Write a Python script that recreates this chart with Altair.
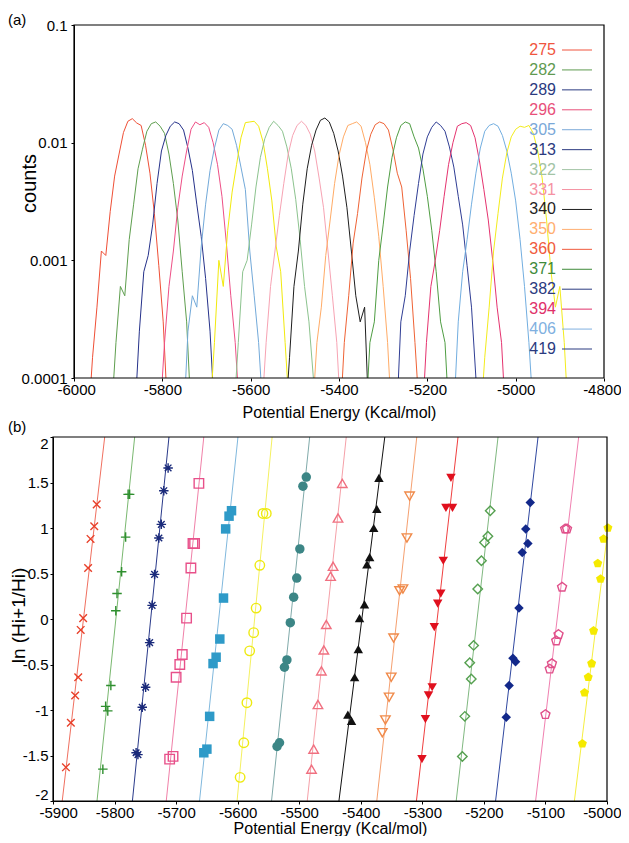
import altair as alt
import pandas as pd

# ---------------- panel (a): energy histograms ----------------
TEMPS = [275, 282, 289, 296, 305, 313, 322, 331, 340, 350, 360, 371, 382, 394, 406, 419]
H_START = [-5968, -5915, -5862, -5805, -5752, -5692, -5638, -5575,
           -5522, -5460, -5398, -5340, -5270, -5212, -5140, -5080]
H_STEP = 10
H_COUNTS = [
    [0.00004, 0.00015, 0.0004, 0.0012, 0.0011, 0.0026, 0.0052, 0.0080, 0.0122, 0.0152, 0.0160, 0.0147, 0.0140, 0.0095, 0.0055, 0.0025, 0.0009, 0.0003, 0.00005],
    [0.00005, 0.0002, 0.0006, 0.0005, 0.0015, 0.0030, 0.0060, 0.0088, 0.0125, 0.0145, 0.0150, 0.0138, 0.0120, 0.0080, 0.0045, 0.0022, 0.0008, 0.0003, 0.00005],
    [0.00005, 0.00025, 0.0008, 0.0011, 0.0020, 0.0045, 0.0085, 0.0115, 0.0138, 0.0150, 0.0145, 0.0128, 0.0090, 0.0058, 0.0030, 0.0016, 0.0007, 0.00025, 0.00005],
    [0.00005, 0.0002, 0.0006, 0.0012, 0.0028, 0.0052, 0.0085, 0.0130, 0.0150, 0.0142, 0.0148, 0.0135, 0.0100, 0.0065, 0.0035, 0.0014, 0.0005, 0.0002, 0.00005],
    [0.00004, 0.00025, 0.0005, 0.0004, 0.0013, 0.0030, 0.0058, 0.0090, 0.0128, 0.0145, 0.0140, 0.0130, 0.0095, 0.0062, 0.0040, 0.0012, 0.0005, 0.0002, 0.00005],
    [0.00005, 0.0002, 0.0010, 0.0006, 0.0018, 0.0038, 0.0065, 0.0110, 0.0148, 0.0150, 0.0152, 0.0138, 0.0102, 0.0060, 0.0032, 0.0013, 0.0008, 0.0002, 0.00005],
    [0.00005, 0.0002, 0.0008, 0.0010, 0.0020, 0.0042, 0.0075, 0.0108, 0.0135, 0.0152, 0.0140, 0.0125, 0.0092, 0.0060, 0.0033, 0.0015, 0.0006, 0.0003, 0.0001, 0.00004],
    [0.00005, 0.0002, 0.0006, 0.0012, 0.0024, 0.0045, 0.0080, 0.0115, 0.0140, 0.0152, 0.0140, 0.0118, 0.0085, 0.0050, 0.0028, 0.0012, 0.0005, 0.0002, 0.00004],
    [0.00004, 0.00015, 0.0006, 0.0012, 0.0030, 0.0060, 0.0095, 0.0128, 0.0155, 0.0162, 0.0150, 0.0120, 0.0085, 0.0052, 0.0028, 0.0012, 0.0005, 0.0003, 0.0004, 0.00004],
    [0.00005, 0.0002, 0.0004, 0.0011, 0.0022, 0.0045, 0.0078, 0.0112, 0.0140, 0.0145, 0.0150, 0.0138, 0.0100, 0.0065, 0.0034, 0.0016, 0.0006, 0.0002, 0.00004],
    [0.00004, 0.0002, 0.0005, 0.0014, 0.0025, 0.0050, 0.0085, 0.0118, 0.0142, 0.0150, 0.0145, 0.0128, 0.0088, 0.0055, 0.0042, 0.0018, 0.0007, 0.0002, 0.00005],
    [0.00004, 0.0002, 0.0003, 0.0010, 0.0020, 0.0042, 0.0075, 0.0110, 0.0140, 0.0150, 0.0145, 0.0112, 0.0090, 0.0060, 0.0035, 0.0018, 0.0008, 0.0003, 0.0002, 0.00004],
    [0.00004, 0.0003, 0.0005, 0.0012, 0.0024, 0.0045, 0.0080, 0.0112, 0.0135, 0.0150, 0.0140, 0.0125, 0.0092, 0.0062, 0.0035, 0.0020, 0.0009, 0.0004, 0.0001, 0.00004],
    [0.00004, 0.0002, 0.0006, 0.0010, 0.0018, 0.0035, 0.0065, 0.0100, 0.0138, 0.0145, 0.0148, 0.0140, 0.0110, 0.0070, 0.0040, 0.0022, 0.0010, 0.0004, 0.0002, 0.00004],
    [0.00005, 0.0003, 0.0008, 0.0015, 0.0030, 0.0055, 0.0090, 0.0125, 0.0140, 0.0145, 0.0138, 0.0115, 0.0085, 0.0055, 0.0032, 0.0015, 0.0006, 0.0002, 0.00005],
    [0.00004, 0.00015, 0.0004, 0.0012, 0.0025, 0.0050, 0.0082, 0.0112, 0.0130, 0.0138, 0.0135, 0.0140, 0.0120, 0.0085, 0.0050, 0.0022, 0.0008, 0.0004, 0.0006, 0.0002, 0.00004],
]
A_XTICKS = [-6000, -5800, -5600, -5400, -5200, -5000, -4800]
A_YTICKS = [0.0001, 0.001, 0.01, 0.1]

# ---------------- panel (b): ln(H_{i+1}/H_i) ----------------
B_E = [
    [-5829, -5833, -5839, -5843, -5851, -5855, -5859, -5864, -5871, -5879],
    [-5775.5, -5778, -5782, -5788.5, -5796, -5798, -5806, -5814.5, -5811, -5819],
    [-5713, -5720, -5724, -5728, -5735, -5739, -5743, -5749.5, -5755, -5765, -5762],
    [-5663, -5670, -5672.6, -5676, -5683, -5690, -5694, -5700, -5705, -5710.5],
    [-5610, -5614, -5619.5, -5623, -5629, -5635, -5640, -5645.5, -5650, -5655],
    [-5553.5, -5559, -5564, -5570, -5574, -5580.5, -5585, -5590, -5596],
    [-5488.5, -5494, -5499, -5504, -5509, -5514.5, -5520, -5524, -5532, -5536],
    [-5430, -5437, -5445, -5449, -5456, -5460, -5464, -5469.6, -5476.6, -5480],
    [-5370.5, -5374, -5379, -5385.6, -5390, -5394, -5402, -5404, -5410, -5421, -5415],
    [-5320.7, -5325, -5331.5, -5337, -5346.7, -5350.5, -5354, -5360, -5365],
    [-5253.5, -5261.7, -5251, -5266, -5270, -5275, -5280.6, -5284, -5290, -5295, -5300.6],
    [-5189.7, -5193.5, -5199, -5204, -5210, -5216.7, -5223, -5220.5, -5231, -5235],
    [-5124.7, -5132, -5128.5, -5137.7, -5143, -5152.8, -5148.5, -5159, -5163.7],
    [-5065, -5068, -5073, -5078.7, -5082.5, -5089.5, -5093, -5100],
    [-4998.5, -5005.6, -5015, -5010.5, -5021.8, -5025, -5030.5, -5036.5, -5040],
]
B_LN = [
    [1.26, 1.02, 0.88, 0.56, 0.01, -0.12, -0.64, -0.84, -1.14, -1.63],
    [1.37, 1.37, 0.90, 0.52, 0.28, 0.09, -0.73, -0.96, -1.01, -1.65],
    [1.66, 1.41, 1.04, 0.89, 0.49, 0.15, -0.26, -0.75, -0.97, -1.47, -1.49],
    [1.49, 0.83, 0.83, 0.56, 0.01, -0.39, -0.50, -0.64, -1.51, -1.54],
    [1.19, 1.13, 0.99, 0.23, -0.22, -0.42, -0.49, -1.07, -1.43, -1.47],
    [1.16, 1.16, 0.59, 0.12, -0.15, -0.35, -0.92, -1.36, -1.74],
    [1.56, 1.46, 0.77, 0.45, 0.24, -0.04, -0.45, -0.53, -1.36, -1.40],
    [1.49, 1.11, 0.58, 0.47, -0.06, -0.34, -0.57, -0.94, -1.43, -1.65],
    [1.55, 1.21, 1.00, 0.68, 0.60, 0.16, 0.01, -0.33, -0.64, -1.05, -1.12],
    [1.35, 0.89, 0.33, 0.31, -0.21, -0.64, -0.86, -1.11, -1.25],
    [1.55, 1.22, 1.22, 0.64, 0.28, 0.17, -0.09, -0.75, -0.84, -1.10, -1.54],
    [1.19, 0.91, 0.84, 0.64, 0.33, -0.29, -0.48, -0.66, -1.07, -1.51],
    [1.28, 0.99, 0.83, 0.73, 0.12, -0.43, -0.47, -0.73, -1.08],
    [0.99, 0.99, 0.35, -0.17, -0.24, -0.49, -0.55, -1.05],
    [1.00, 0.88, 0.61, 0.44, -0.13, -0.49, -0.64, -0.81, -1.37],
]
# fitted lines: energy where each line meets ln = -2 and ln = 2
FIT_LN = [-2, 2]
FIT_E_LOW = [-5885, -5828.5, -5771, -5716, -5662, -5601, -5545, -5487,
             -5435.5, -5374, -5309.6, -5245, -5181, -5116, -5053]
FIT_E_HIGH = [-5816, -5767.3, -5711.6, -5655, -5599.5, -5544, -5483, -5423.6,
              -5361, -5309, -5242, -5177, -5112, -5046, -4980]
B_XTICKS = [-5900, -5800, -5700, -5600, -5500, -5400, -5300, -5200, -5100, -5000]
B_YTICKS = [-2, -1.5, -1, -0.5, 0, 0.5, 1, 1.5, 2]

# ---------------- styles ----------------
FONT = "Liberation Sans"
CURVE_COLORS = ["#ef4f36", "#5e9e4e", "#25318a", "#ee4f86", "#72a9d9", "#f2ea0c",
                "#8cc38e", "#f7a3b3", "#1e1e1e", "#ffab66", "#ef6235", "#4f9d43",
                "#2f3d94", "#e5336f", "#72aee0", "#f3ec1c"]
LEGEND_COLORS = ["#f0553e", "#5f9a50", "#2b3a80", "#e8507a", "#7aa8d8", "#2b3a80",
                 "#a3c4a5", "#f592a3", "#1e1e1e", "#ffae70", "#f05a3c", "#3f8a3a",
                 "#2b3a80", "#e0306a", "#80b0e0", "#2b3a80"]
MARK_COLORS = ["#e8402a", "#2f8f2f", "#1a2a7a", "#e8508a", "#2e9ac8", "#eeea10",
               "#3c8686", "#f07080", "#111111", "#f08a4a", "#e0101e", "#55a050",
               "#12288a", "#e0508a", "#f5ea00"]
LINE_COLORS = ["#f07060", "#7ab870", "#2a3a8a", "#f080a8", "#80b8dd", "#f4f060",
               "#80aaaa", "#f5a0a8", "#111111", "#f5a070", "#f04040", "#80b880",
               "#3048a0", "#f080b0", "#f5ee40"]
P_X = "M-0.8,-0.8L0.8,0.8M0.8,-0.8L-0.8,0.8"
P_PLUS = "M-1,0L1,0M0,-1L0,1"
P_STAR = "M0,-1L0,1M-1,0L1,0M-0.7,-0.7L0.7,0.7M0.7,-0.7L-0.7,0.7"
P_PENT = "M0,-1L0.951,-0.309L0.588,0.809L-0.588,0.809L-0.951,-0.309Z"
SHAPES = [P_X, P_PLUS, P_STAR, "square", "square", "circle", "circle",
          "triangle-up", "triangle-up", "triangle-down", "triangle-down",
          "diamond", "diamond", P_PENT, P_PENT]
FILLED = [False, False, False, False, True, False, True, False, True,
          False, True, False, True, False, True]

FIX_MINUS = "replace(datum.label, '\u2212', '-')"

# layout (pixels): panel (a) plot sits 21px right of panel (b)'s left edge
A_W, A_H, A_SHIFT = 551, 353, 21
B_W, B_H = 554, 364

# ---------------- build tables ----------------
hrows = []
for i, t in enumerate(TEMPS):
    for j, c in enumerate(H_COUNTS[i]):
        hrows.append({"T": str(t), "E": H_START[i] + j * H_STEP, "count": c,
                      "color": CURVE_COLORS[i]})
hdf = pd.DataFrame(hrows)

legdf = pd.DataFrame({"T": [str(t) for t in TEMPS], "lcolor": LEGEND_COLORS})

prow, lrow = [], []
for k in range(len(B_E)):
    for e, v in zip(B_E[k], B_LN[k]):
        prow.append({"s": k, "E": e, "ln": v, "color": MARK_COLORS[k],
                     "shape": SHAPES[k], "filled": FILLED[k]})
    for e, v in zip([FIT_E_LOW[k], FIT_E_HIGH[k]], FIT_LN):
        lrow.append({"s": k, "E": e, "ln": v, "color": LINE_COLORS[k]})
pdf = pd.DataFrame(prow)
ldf = pd.DataFrame(lrow)
one = pd.DataFrame({"t": ["x"]})

# ---------------- panel (a) ----------------
ax_a_x = alt.Axis(values=A_XTICKS, format="d", labelExpr=FIX_MINUS, domain=False,
                  title="Potential Energy (Kcal/mol)", titleFontSize=16,
                  titleFontWeight="normal", titleY=34, titleBaseline="middle",
                  titleX=A_SHIFT + 265, labelFontSize=15, tickSize=3, labelPadding=1,
                  labelFlush=True, labelFlushOffset=17)
ax_a_y = alt.Axis(values=A_YTICKS, format="~g", title="counts", titleFontSize=20,
                  titleFontWeight="normal", titleX=-45, titleY=158, offset=-A_SHIFT,
                  titleBaseline="middle", labelFontSize=15, tickSize=3, labelPadding=4,
                  labelFlush=False)

hist = alt.Chart(hdf).mark_line(strokeWidth=1, clip=True).encode(
    x=alt.X("E:Q", scale=alt.Scale(domain=[-6000, -4800], nice=False, zero=False,
                                   range=[A_SHIFT, A_W]), axis=ax_a_x),
    y=alt.Y("count:Q", scale=alt.Scale(type="log", domain=[0.0001, 0.1], nice=False), axis=ax_a_y),
    color=alt.Color("color:N", scale=None),
    detail="T:N",
    order="E:Q",
)

legy = alt.Y("T:N", sort=None, axis=None,
             scale=alt.Scale(type="point", range=[25, 324], padding=0))
leg_text = alt.Chart(legdf).mark_text(align="right", baseline="middle", fontSize=16, font=FONT).encode(
    x=alt.value(A_SHIFT + 482), y=legy, text="T:N", color=alt.Color("lcolor:N", scale=None))
leg_rule = alt.Chart(legdf).mark_rule(strokeWidth=1).encode(
    x=alt.value(A_SHIFT + 488), x2=alt.value(A_SHIFT + 518), y=legy,
    color=alt.Color("lcolor:N", scale=None))

frame_a = alt.Chart(one).mark_rect(fillOpacity=0, stroke="black", strokeWidth=1.2).encode(
    x=alt.value(A_SHIFT), x2=alt.value(A_W), y=alt.value(0), y2=alt.value(A_H))

lab_a = alt.Chart(pd.DataFrame({"t": ["(a)"]})).mark_text(
    align="left", baseline="top", fontSize=15, font=FONT, color="black").encode(
    x=alt.value(A_SHIFT - 66), y=alt.value(-12), text="t:N")

panel_a = alt.layer(hist, leg_text, leg_rule, frame_a, lab_a).resolve_scale(
    y="independent").properties(width=A_W, height=A_H)

# ---------------- panel (b) ----------------
ax_b_x = alt.Axis(values=B_XTICKS, format="d", labelExpr=FIX_MINUS,
                  title="Potential Energy (Kcal/mol)", titleFontSize=16,
                  titleFontWeight="normal", titleY=27, titleBaseline="middle",
                  labelFontSize=15, tickSize=3, labelPadding=1,
                  labelFlush=True, labelFlushOffset=14)
ax_b_y = alt.Axis(values=B_YTICKS, format="~g", labelExpr=FIX_MINUS,
                  title="ln (Hi+1/Hi)", titleFontSize=19, titleFontWeight="normal",
                  titleX=-35, titleY=178, titleBaseline="middle",
                  labelFontSize=15, tickSize=3, labelPadding=2,
                  labelFlush=True, labelFlushOffset=1)
bx = alt.X("E:Q", scale=alt.Scale(domain=[-5900, -5000], nice=False, zero=False), axis=ax_b_x)
by = alt.Y("ln:Q", scale=alt.Scale(domain=[-2, 2], nice=False), axis=ax_b_y)

fits = alt.Chart(ldf).mark_line(strokeWidth=1, clip=True).encode(
    x=bx, y=by, color=alt.Color("color:N", scale=None), detail="s:N")
open_pts = alt.Chart(pdf).transform_filter("!datum.filled").mark_point(
    filled=False, size=90, strokeWidth=1.4, opacity=1).encode(
    x=bx, y=by, color=alt.Color("color:N", scale=None), shape=alt.Shape("shape:N", scale=None))
fill_pts = alt.Chart(pdf).transform_filter("datum.filled").mark_point(
    filled=True, size=90, opacity=1).encode(
    x=bx, y=by, color=alt.Color("color:N", scale=None), shape=alt.Shape("shape:N", scale=None))
frame_b = alt.Chart(one).mark_rect(fillOpacity=0, stroke="black", strokeWidth=1.2).encode(
    x=alt.value(0), x2=alt.value(B_W), y=alt.value(0), y2=alt.value(B_H))
lab_b = alt.Chart(pd.DataFrame({"t": ["(b)"]})).mark_text(
    align="left", baseline="top", fontSize=15, font=FONT, color="black").encode(
    x=alt.value(-45), y=alt.value(-17), text="t:N")

panel_b = alt.layer(fits, open_pts, fill_pts, frame_b, lab_b).properties(width=B_W, height=B_H)

chart = alt.vconcat(panel_a, panel_b, spacing=0).properties(
    padding={"top": 5, "left": 0, "right": 0, "bottom": 0}
).configure_view(stroke=None).configure_axis(
    grid=False, domainColor="black", tickColor="black", labelColor="black",
    titleColor="black", labelFont=FONT, titleFont=FONT
).configure_text(font=FONT)

chart.save("out.html", embed_options={"renderer": "svg", "actions": False})
